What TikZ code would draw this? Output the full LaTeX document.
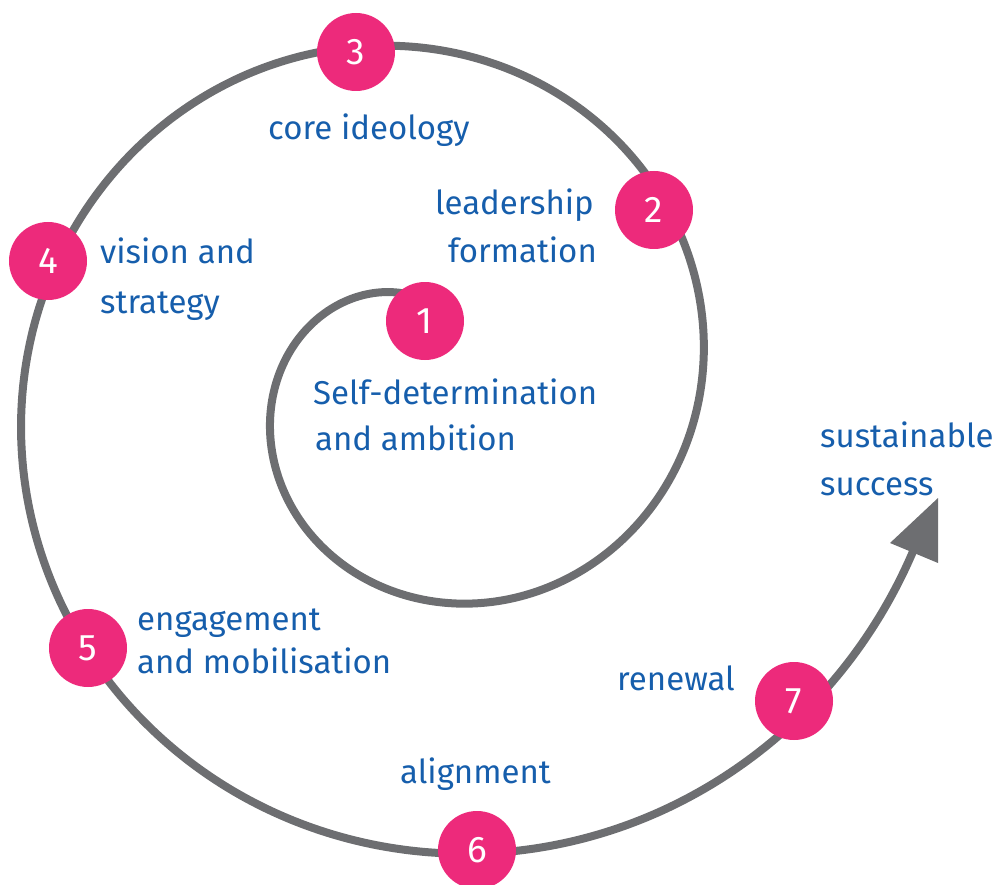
\documentclass[tikz,border=0pt]{standalone}
\usepackage{fontspec}
\setmainfont{Fira Sans}
\definecolor{spiralgray}{RGB}{109,110,113}
\definecolor{stagepink}{RGB}{237,42,123}
\definecolor{labelblue}{RGB}{22,94,172}

\begin{document}
\begin{tikzpicture}[x=1pt, y=-1pt,
  stage/.style={circle, fill=stagepink, minimum size=78pt, inner sep=0pt,
    text=white, font=\fontsize{37}{37}\selectfont},
  lbl/.style={text=labelblue, inner sep=0pt, font=\fontsize{33}{38}\selectfont},
]
\useasboundingbox (0,0) rectangle (1003,885);

% Archimedean spiral: centre (425,387), r = 24 + 0.70*phi (phi in degrees)
\draw[spiralgray, line width=8pt]
  plot[domain=90:703, samples=320, smooth]
  ({425+(24+0.70*\x)*cos(\x)}, {387-(24+0.70*\x)*sin(\x)});

% arrow head at the open end of the spiral
\coordinate (tip) at (938,498);
\coordinate (barbL) at (890,543);
\coordinate (barbR) at (938,563);
\fill[spiralgray] (tip) -- (barbL) -- (barbR) -- cycle;

% stages along the spiral
\node[stage] (s1) at (425,321) {1};
\node[stage] (s2) at (654,210) {2};
\node[stage] (s3) at (356,52)  {3};
\node[stage] (s4) at (48,261)  {4};
\node[stage] (s5) at (88,648)  {5};
\node[stage] (s6) at (477,850) {6};
\node[stage] (s7) at (794,701) {7};

% labels
\node[lbl, anchor=base west] (l1a) at (313,404) {Self-determination};
\node[lbl, anchor=base west] (l1b) at (315,450) {and ambition};
\node[lbl, anchor=base east] (l2a) at (594,215) {leadership};
\node[lbl, anchor=base east] (l2b) at (597,262) {formation};
\node[lbl, anchor=base west] (l3)  at (268,140) {core ideology};
\node[lbl, anchor=base west] (l4a) at (100,263) {vision and};
\node[lbl, anchor=base west] (l4b) at (100,313) {strategy};
\node[lbl, anchor=base west] (l5a) at (137,630) {engagement};
\node[lbl, anchor=base west] (l5b) at (137,673) {and mobilisation};
\node[lbl, anchor=base west] (l6)  at (400,783) {alignment};
\node[lbl, anchor=base east] (l7)  at (735,690) {renewal};
\node[lbl, anchor=base west] (l8a) at (820,447) {sustainable};
\node[lbl, anchor=base west] (l8b) at (820,495) {success};
\end{tikzpicture}
\end{document}
